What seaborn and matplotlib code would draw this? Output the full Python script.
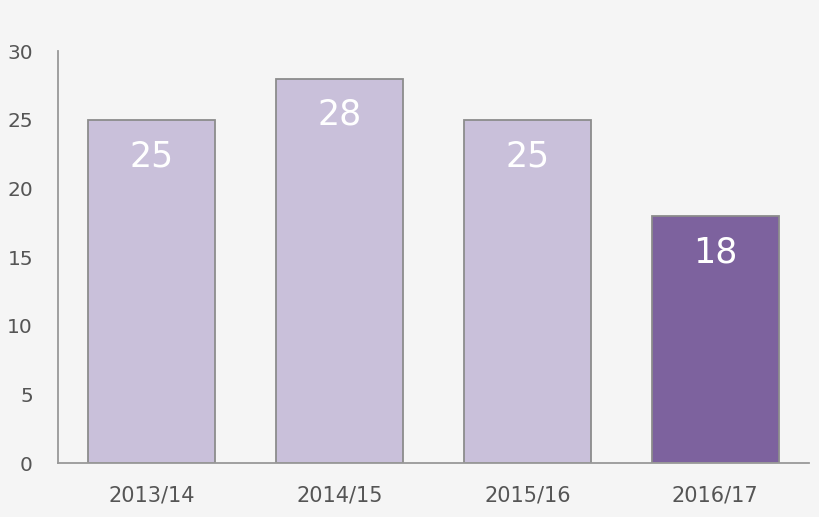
import matplotlib
matplotlib.use("Agg")
import matplotlib.pyplot as plt
import seaborn as sns
import pandas as pd

seasons = ["2013/14", "2014/15", "2015/16", "2016/17"]
values = [25, 28, 25, 18]
bar_colors = ["#C9C0DA", "#C9C0DA", "#C9C0DA", "#7D629E"]
yticks = [0, 5, 10, 15, 20, 25, 30]

sns.set_theme(style="white")
plt.rcParams["font.family"] = ["DejaVu Sans"]

bg = "#F5F5F5"
fig = plt.figure(figsize=(8.2, 5.17), dpi=100, facecolor=bg)
ax = fig.add_axes([0.0707, 0.1044, 0.9159, 0.7962], facecolor=bg)

df = pd.DataFrame({"season": seasons, "value": values})
sns.barplot(data=df, x="season", y="value", hue="season", palette=bar_colors,
            legend=False, width=0.675, edgecolor="#8C8C8C", linewidth=1.3,
            saturation=1, ax=ax)

ax.set_xlim(-0.5, 3.5)
ax.set_ylim(0, 30)
ax.set_yticks(yticks)
ax.set_yticklabels([str(t) for t in yticks])
ax.set_xlabel("")
ax.set_ylabel("")

for s in ["top", "right"]:
    ax.spines[s].set_visible(False)
for s in ["left", "bottom"]:
    ax.spines[s].set_color("#999999")
    ax.spines[s].set_linewidth(1.3)

ax.tick_params(axis="y", length=0, pad=18, labelsize=14.5, labelcolor="#555555")
ax.tick_params(axis="x", length=0, pad=16, labelsize=15, labelcolor="#555555")

for i, v in enumerate(values):
    ax.annotate(str(v), xy=(i, v), xytext=(0, -26), textcoords="offset points",
                ha="center", va="center", color="white", fontsize=25)

fig.savefig("out.png", dpi=100, facecolor=bg)
